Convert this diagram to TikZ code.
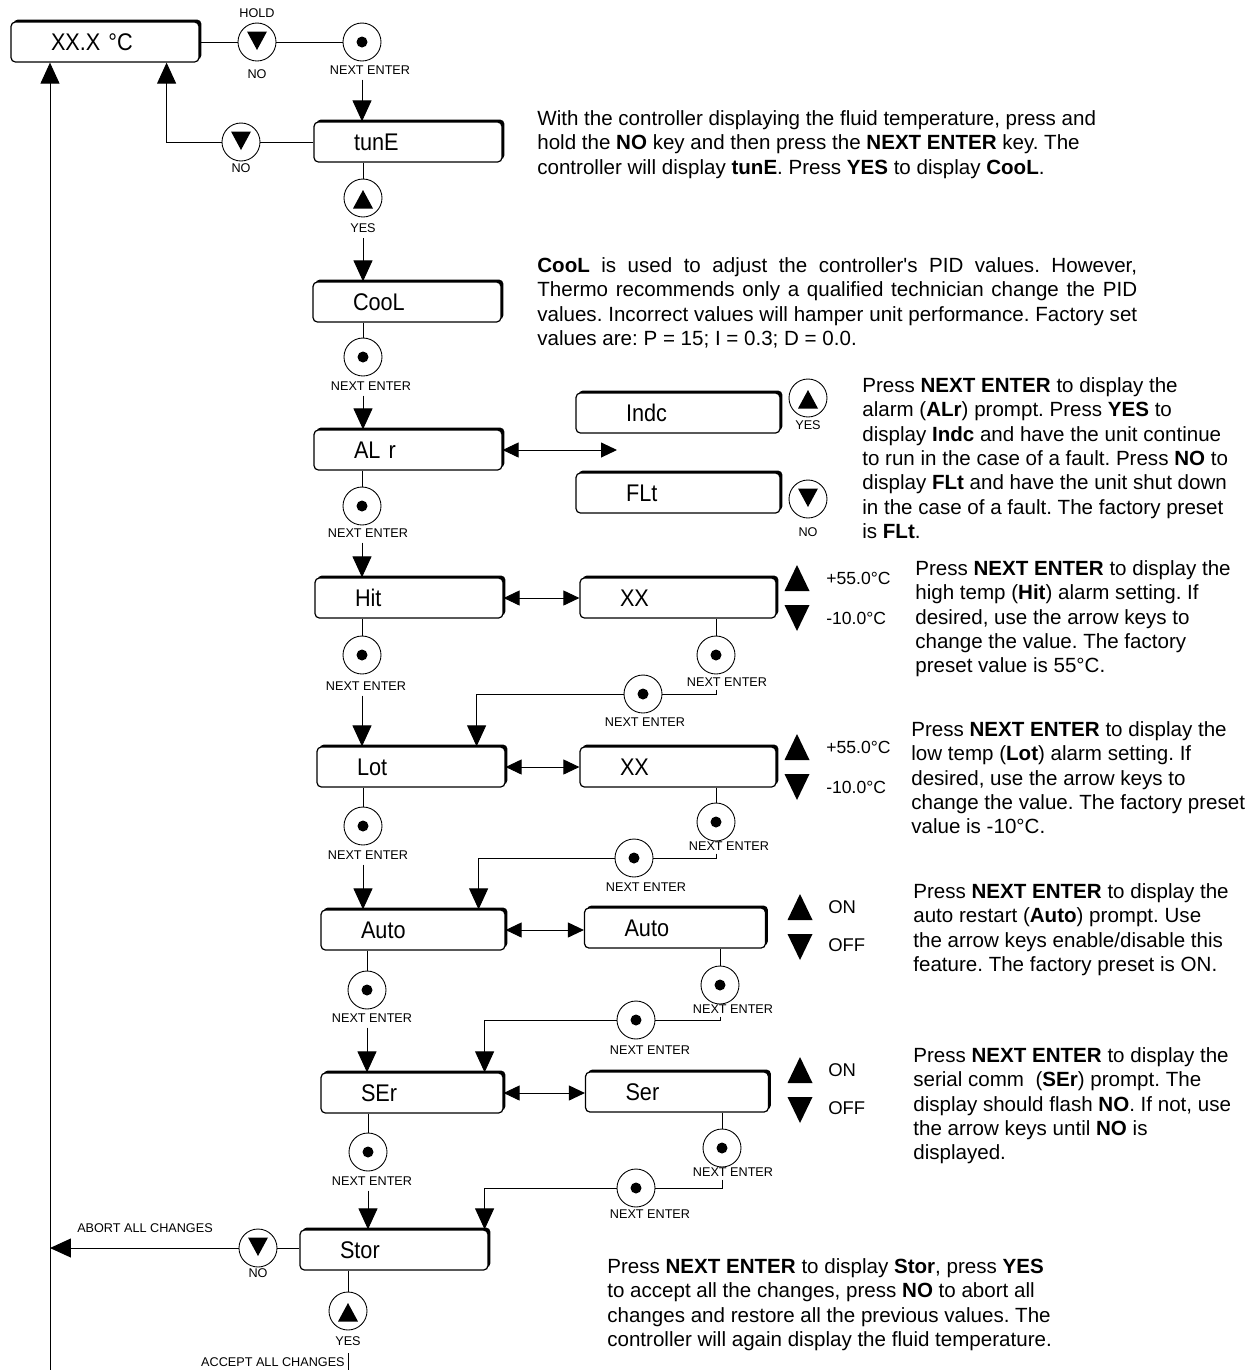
\documentclass[tikz,border=0pt]{standalone}
\usepackage{fontspec}
\setmainfont{Liberation Sans}[Ligatures=TeXOff]
\newfontfamily\dispfont[FakeStretch=0.9]{Liberation Sans}
\usetikzlibrary{calc}
\usetikzlibrary{arrows.meta}
\frenchspacing

\begin{document}
\begin{tikzpicture}[x=0.02cm,y=-0.02cm]
\tikzstyle{disp}=[draw, fill=white, line width=0.7pt, rounded corners=2.5pt, minimum height=0.8cm, inner xsep=0.8cm, text width=2.16cm, align=left, font={\dispfont\fontsize{13.7}{16}\selectfont}, preaction={fill=black, transform canvas={shift={(1.4pt,1.4pt)}}}]
\tikzstyle{key}=[draw, circle, line width=0.5pt, minimum size=0.76cm, inner sep=0pt]
\tikzstyle{keydot}=[key, path picture={\fill (path picture bounding box.center) circle (0.11cm);}]
\tikzstyle{keydn}=[key, path picture={\fill ($(path picture bounding box.center)+(-0.2cm,0.21cm)$) -- ++(0.4cm,0cm) -- ++(-0.2cm,-0.37cm) -- cycle;}]
\tikzstyle{keyup}=[key, path picture={\fill ($(path picture bounding box.center)+(-0.2cm,-0.21cm)$) -- ++(0.4cm,0cm) -- ++(-0.2cm,0.37cm) -- cycle;}]
\tikzstyle{keylbl}=[inner sep=0pt, font=\fontsize{7.2}{8}\selectfont]
\tikzstyle{val}=[anchor=west, inner sep=0pt, font=\fontsize{10}{12}\selectfont]
\tikzstyle{note}=[anchor=north west, align=left, inner sep=0pt, font=\fontsize{11.7}{13.9}\selectfont]
\tikzstyle{ln}=[line width=0.55pt]
\tikzstyle{arr}=[ln, -{Triangle[width=0.38cm,length=0.42cm]}]
\tikzstyle{dbl}=[ln, {Triangle[width=0.3cm,length=0.32cm]}-{Triangle[width=0.3cm,length=0.32cm]}]

\useasboundingbox (0,0) rectangle (1254,1370);

% top row
\node[disp] (temp) at (105,42) {XX.X °C};
\node[keydn] (hold) at (257,42) {};
\node[keylbl] (holdt) at (257,13) {HOLD};
\node[keylbl] (holdb) at (257,74) {NO};
\node[keydot] (nx0) at (362,42) {};
\node[keylbl] (nx0t) at (370,70) {NEXT ENTER};

\node[disp] (tune) at (408,142) {tunE};
\node[keydn] (no1) at (241,142) {};
\node[keylbl] (no1b) at (241,168) {NO};
\node[keyup] (yes1) at (363,198) {};
\node[keylbl] (yes1b) at (363,228) {YES};

\node[disp] (cool) at (407,302) {CooL};
\node[keydot] (nx1) at (363,357) {};
\node[keylbl] (nx1t) at (371,386) {NEXT ENTER};

% alarm
\node[disp] (alr) at (408,450) {AL r};
\node[disp, text width=2.08cm, inner xsep=1cm] (indc) at (678,413) {Indc};
\node[disp, text width=2.08cm, inner xsep=1cm] (flt) at (678,493) {FLt};
\node[keyup] (yes2) at (808,398) {};
\node[keylbl] (yes2b) at (808,425) {YES};
\node[keydn] (no2) at (808,499) {};
\node[keylbl] (no2b) at (808,532) {NO};
\coordinate (alrto) at (617,450);
\node[keydot] (nx2) at (362,506) {};
\node[keylbl] (nx2t) at (368,533) {NEXT ENTER};

% high / low temp
\node[disp] (hit) at (409,598) {Hit};
\node[disp, text width=2.32cm] (xx1) at (678,598) {XX};
\node[keydot] (nx3) at (362,655) {};
\node[keylbl] (nx3t) at (366,686) {NEXT ENTER};
\node[keydot] (nx4) at (716,655) {};
\node[keylbl] (nx4t) at (727,682) {NEXT ENTER};
\node[keydot] (nx5) at (643,694) {};
\node[keylbl] (nx5t) at (645,722) {NEXT ENTER};

\node[disp] (lot) at (411,767) {Lot};
\node[disp, text width=2.32cm] (xx2) at (678,767) {XX};
\node[keydot] (nx6) at (363,826) {};
\node[keylbl] (nx6t) at (368,855) {NEXT ENTER};
\node[keydot] (nx7) at (716,822) {};
\node[keylbl] (nx7t) at (729,846) {NEXT ENTER};
\node[keydot] (nx8) at (634,858) {};
\node[keylbl] (nx8t) at (646,887) {NEXT ENTER};

% auto restart / serial
\node[disp, text width=2.08cm] (auto) at (413,930) {Auto};
\node[disp, text width=2.02cm] (auto2) at (675,928) {Auto};
\node[keydot] (nx9) at (367,990) {};
\node[keylbl] (nx9t) at (372,1018) {NEXT ENTER};
\node[keydot] (nx10) at (720,985) {};
\node[keylbl] (nx10t) at (733,1009) {NEXT ENTER};
\node[keydot] (nx11) at (636,1020) {};
\node[keylbl] (nx11t) at (650,1050) {NEXT ENTER};

\node[disp, text width=2.04cm] (ser) at (412,1093) {SEr};
\node[disp, text width=2.06cm] (ser2) at (677,1092) {Ser};
\node[keydot] (nx12) at (368,1152) {};
\node[keylbl] (nx12t) at (372,1181) {NEXT ENTER};
\node[keydot] (nx13) at (722,1148) {};
\node[keylbl] (nx13t) at (733,1172) {NEXT ENTER};
\node[keydot] (nx14) at (636,1188) {};
\node[keylbl] (nx14t) at (650,1214) {NEXT ENTER};

% store
\node[disp] (stor) at (394,1250) {Stor};
\node[keydn] (no3) at (258,1248) {};
\node[keylbl] (no3b) at (258,1273) {NO};
\node[keyup] (yes3) at (348,1311) {};
\node[keylbl] (yes3b) at (348,1341) {YES};
\node[keylbl] (abortl) at (145,1228) {ABORT ALL CHANGES};
\node[keylbl, anchor=east] (acceptl) at (345,1362) {ACCEPT ALL CHANGES};
\coordinate (abort) at (50,1248);
\coordinate (lbot) at (50,1370);
\coordinate (abot) at (348,1370);

% value keys
\node[val] (hiup) at (826,578) {+55.0°C};
\node[val] (hidn) at (826,618) {-10.0°C};
\node[val] (loup) at (826,747) {+55.0°C};
\node[val] (lodn) at (826,787) {-10.0°C};
\node[val, font=\fontsize{10.5}{12}\selectfont] (auon) at (828,907) {ON};
\node[val, font=\fontsize{10.5}{12}\selectfont] (auoff) at (828,945) {OFF};
\node[val, font=\fontsize{10.5}{12}\selectfont] (seon) at (828,1070) {ON};
\node[val, font=\fontsize{10.5}{12}\selectfont] (seoff) at (828,1108) {OFF};
\foreach \x/\y in {797/578, 797/747, 800/907, 800/1070} {
  \fill (\x-12.5,\y+13) -- (\x+12.5,\y+13) -- (\x,\y-13) -- cycle;
  \fill (\x-12.5,\y+27) -- (\x+12.5,\y+27) -- (\x,\y+53) -- cycle;
}

% connectors
\draw[ln] (temp.east) -- (hold);
\draw[ln] (hold) -- (nx0);
\draw[arr] ($(nx0 |- nx0t.south)+(0,5)$) -- (nx0 |- tune.north);
\draw[ln] (tune.west) -- (no1);
\draw[arr] (no1) -| ($(temp.south east)+(-33,0)$);
\draw[ln] (yes1 |- tune.south) -- (yes1);
\draw[arr] ($(yes1 |- yes1b.south)+(0,5)$) -- (yes1 |- cool.north);
\draw[ln] (nx1 |- cool.south) -- (nx1);
\draw[arr] ($(nx1 |- nx1t.south)+(0,5)$) -- (nx1 |- alr.north);
\draw[dbl] (alr.east) -- (alrto);
\draw[ln] (nx2 |- alr.south) -- (nx2);
\draw[arr] ($(nx2 |- nx2t.south)+(0,5)$) -- (nx2 |- hit.north);

\draw[dbl] (hit.east) -- (xx1.west);
\draw[ln] (nx3 |- hit.south) -- (nx3);
\draw[arr] ($(nx3 |- nx3t.south)+(0,5)$) -- (nx3 |- lot.north);
\draw[ln] (nx4 |- xx1.south) -- (nx4);
\draw[ln] ($(nx4 |- nx4t.south)+(0,3)$) |- (nx5);
\draw[arr] (nx5) -| ($(lot.north east)+(-29,0)$);

\draw[dbl] (lot.east) -- (xx2.west);
\draw[ln] (nx6 |- lot.south) -- (nx6);
\draw[arr] ($(nx6 |- nx6t.south)+(0,5)$) -- (nx6 |- auto.north);
\draw[ln] (nx7 |- xx2.south) -- (nx7);
\draw[ln] ($(nx7 |- nx7t.south)+(0,3)$) |- (nx8);
\draw[arr] (nx8) -| ($(auto.north east)+(-27,0)$);

\draw[dbl] (auto.east) -- (auto.east -| auto2.west);
\draw[ln] (nx9 |- auto.south) -- (nx9);
\draw[arr] ($(nx9 |- nx9t.south)+(0,5)$) -- (nx9 |- ser.north);
\draw[ln] (nx10 |- auto2.south) -- (nx10);
\draw[ln] ($(nx10 |- nx10t.south)+(0,3)$) |- (nx11);
\draw[arr] (nx11) -| ($(ser.north east)+(-19,0)$);

\draw[dbl] (ser.east) -- (ser.east -| ser2.west);
\draw[ln] (nx12 |- ser.south) -- (nx12);
\draw[arr] ($(nx12 |- nx12t.south)+(0,5)$) -- (nx12 |- stor.north);
\draw[ln] (nx13 |- ser2.south) -- (nx13);
\draw[ln] ($(nx13 |- nx13t.south)+(0,3)$) |- (nx14);
\draw[arr] (nx14) -| ($(stor.north east)+(-4,0)$);

\draw[ln] (stor.west |- no3) -- (no3);
\draw[arr] (no3) -- (abort);
\draw[arr] (lbot) -- (lbot |- temp.south);
\draw[ln] (yes3 |- stor.south) -- (yes3);
\draw[ln] ($(yes3 |- acceptl.north)+(0,-4)$) -- (abot);

% notes
\node[note] (n1) at (537,110) {With the controller displaying the fluid temperature, press and\\
hold the \textbf{NO} key and then press the \textbf{NEXT ENTER} key. The\\
controller will display \textbf{tunE}. Press \textbf{YES} to display \textbf{CooL}.};
\node[note] (n2) at (537,257) {\makebox[12cm][s]{\textbf{CooL} is used to adjust the controller's PID values. However,}\\
\makebox[12cm][s]{Thermo recommends only a qualified technician change the PID}\\
\makebox[12cm][s]{values. Incorrect values will hamper unit performance. Factory set}\\
values are: P = 15; I = 0.3; D = 0.0.};
\node[note] (n3) at (862,377) {Press \textbf{NEXT ENTER} to display the\\
alarm (\textbf{ALr}) prompt. Press \textbf{YES} to\\
display \textbf{Indc} and have the unit continue\\
to run in the case of a fault. Press \textbf{NO} to\\
display \textbf{FLt} and have the unit shut down\\
in the case of a fault. The factory preset\\
is \textbf{FLt}.};
\node[note] (n4) at (915,560) {Press \textbf{NEXT ENTER} to display the\\
high temp (\textbf{Hit}) alarm setting. If\\
desired, use the arrow keys to\\
change the value. The factory\\
preset value is 55°C.};
\node[note] (n5) at (911,721) {Press \textbf{NEXT ENTER} to display the\\
low temp (\textbf{Lot}) alarm setting. If\\
desired, use the arrow keys to\\
change the value. The factory preset\\
value is -10°C.};
\node[note] (n6) at (913,883) {Press \textbf{NEXT ENTER} to display the\\
auto restart (\textbf{Auto}) prompt. Use\\
the arrow keys enable/disable this\\
feature. The factory preset is ON.};
\node[note] (n7) at (913,1047) {Press \textbf{NEXT ENTER} to display the\\
serial comm\ \ (\textbf{SEr}) prompt. The\\
display should flash \textbf{NO}. If not, use\\
the arrow keys until \textbf{NO} is\\
displayed.};
\node[note] (n8) at (607,1258) {Press \textbf{NEXT ENTER} to display \textbf{Stor}, press \textbf{YES}\\
to accept all the changes, press \textbf{NO} to abort all\\
changes and restore all the previous values. The\\
controller will again display the fluid temperature.};

\end{tikzpicture}
\end{document}
